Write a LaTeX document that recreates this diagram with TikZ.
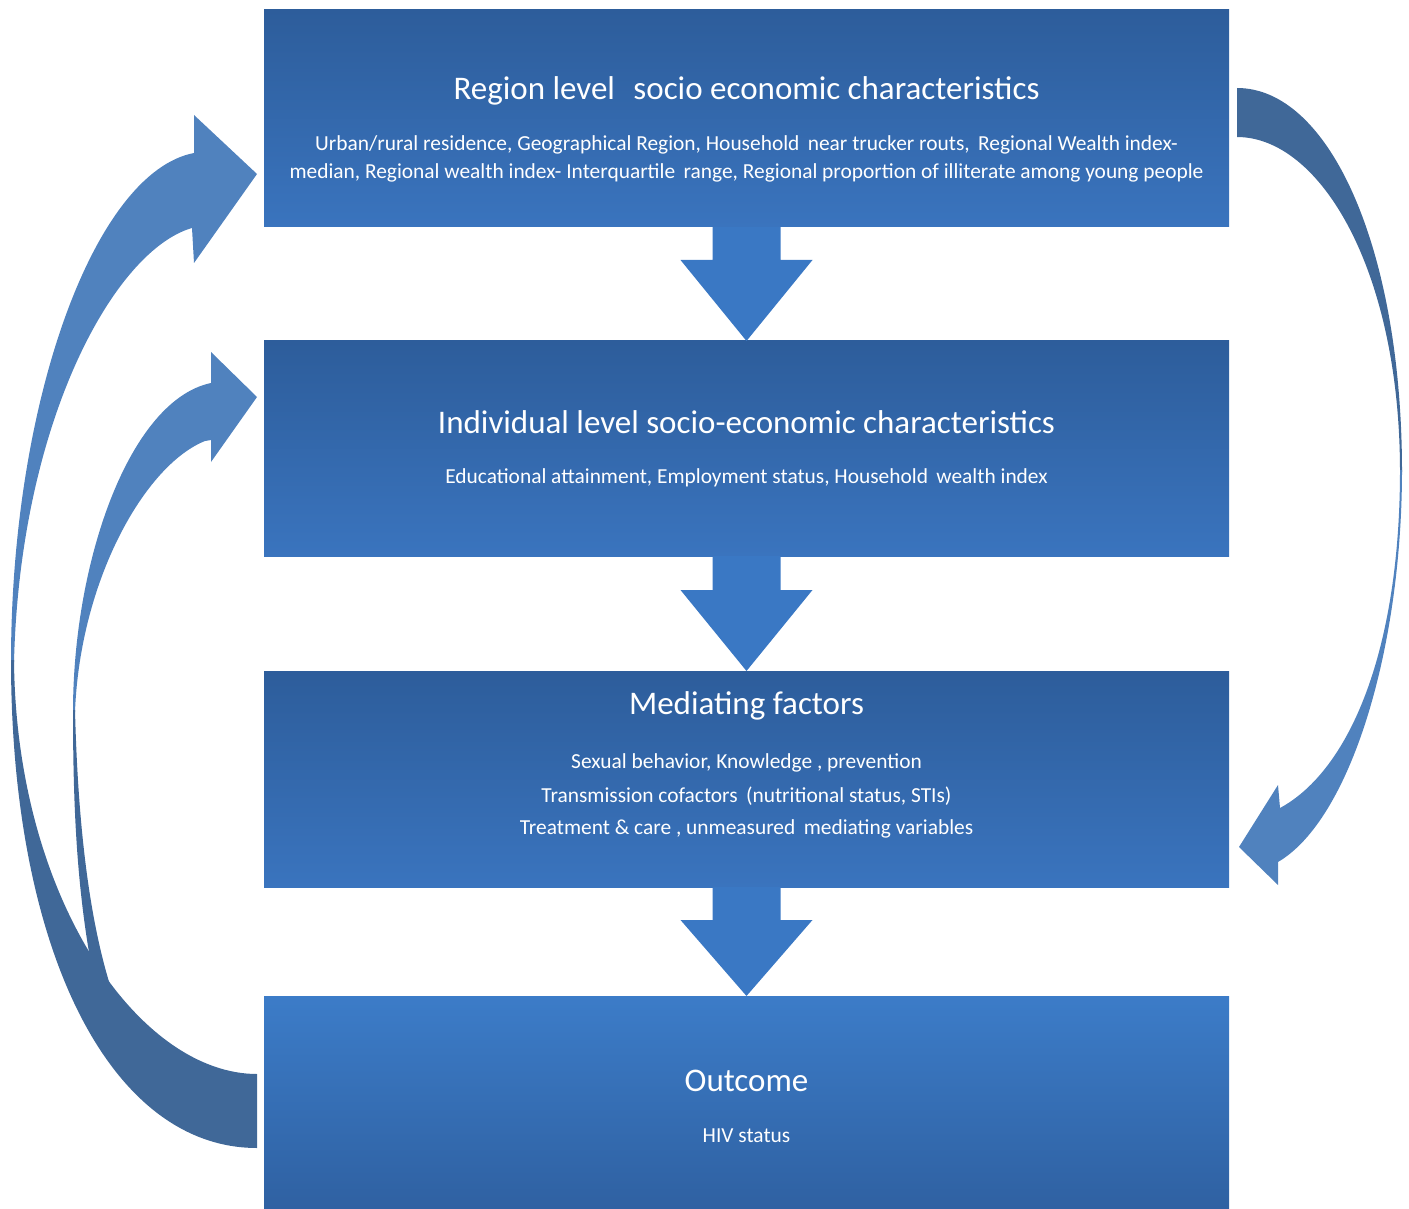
\documentclass[tikz,border=0pt]{standalone}
\usepackage{fontspec}
\setmainfont{Carlito}
\usetikzlibrary{calc}
\definecolor{lvltop}{RGB}{45,93,155}
\definecolor{lvlbot}{RGB}{58,116,190}
\definecolor{outtop}{RGB}{60,124,200}
\definecolor{outbot}{RGB}{47,97,162}
\definecolor{flowblue}{RGB}{58,120,196}
\definecolor{loopdark}{RGB}{64,104,152}
\definecolor{looplight}{RGB}{80,130,190}

\begin{document}
\begin{tikzpicture}[x=0.5pt, y=-0.5pt,
    level/.style={minimum width=482.5pt, inner sep=0pt, outer sep=0pt, top color=lvltop, bottom color=lvlbot},
    heading/.style={anchor=base, inner sep=0pt, text=white, font=\fontsize{16.5}{19}\selectfont},
    detail/.style={anchor=base, inner sep=0pt, text=white, font=\fontsize{10.7}{13}\selectfont},
    flow/.style={fill=flowblue},
    loopback/.style={fill=loopdark},
    loopfront/.style={fill=looplight}
]
\useasboundingbox (0,0) rectangle (1409,1209);

% === Flechas de retorno ===
% outcome -> individual
\fill[loopfront] (73,712) .. controls (73,560) and (130,400) .. (211,383)
    -- (211,352) -- (257,397) -- (211,462) -- (211,440)
    -- (205,441) .. controls (145,465) and (80,580) .. (75,712) -- cycle;
\fill[loopback] (73,710) .. controls (73,820) and (78,900) .. (95,985)
    -- (110,985) .. controls (90,920) and (78,830) .. (75,710) -- cycle;

% outcome -> region
\fill[loopfront] (11,662) .. controls (11,400) and (95,172) .. (194,153)
    -- (194,115) -- (257,174) -- (194,263) -- (192,228)
    .. controls (115,250) and (20,420) .. (14,662) -- cycle;
\fill[loopback] (11,660) .. controls (11,950) and (110,1148) .. (257,1148)
    -- (257,1074) .. controls (140,1074) and (16,900) .. (14,660) -- cycle;

% region -> mediating
\fill[loopback] (1237,88) .. controls (1330,88) and (1402,250) .. (1402,472)
    -- (1400,472) .. controls (1400,270) and (1320,137) .. (1237,137) -- cycle;
\fill[loopfront] (1402,470) .. controls (1402,650) and (1350,820) .. (1278,862)
    -- (1278,885) -- (1239,847) -- (1278,785) -- (1280,808)
    .. controls (1350,770) and (1400,650) .. (1400,470) -- cycle;

% === Niveles ===
\node[level, minimum height=108.5pt] (region) at (746.5,118.5) {};
\node[level, minimum height=107.5pt] (indiv) at (746.5,448.5) {};
\node[level, minimum height=108pt] (mediat) at (746.5,779) {};
\node[level, minimum height=106pt, top color=outtop, bottom color=outbot] (outcome) at (746.5,1102) {};

\node[heading] (regionhead) at (746.5,100) {Region level\,\, socio economic characteristics};
\node[detail] (regionline1) at (746.5,151) {Urban/rural residence, Geographical Region, Household\, near trucker routs,\, Regional Wealth index-};
\node[detail] (regionline2) at (746.5,179) {median, Regional wealth index- Interquartile\, range, Regional proportion of illiterate among young people};

\node[heading] (indivhead) at (746.5,433) {Individual level socio-economic characteristics};
\node[detail] (indivline) at (746.5,483) {Educational attainment, Employment status, Household\, wealth index};

\node[heading] (mediathead) at (746.5,714) {Mediating factors};
\node[detail] (mediatline1) at (746.5,768) {Sexual behavior, Knowledge , prevention};
\node[detail] (mediatline2) at (746.5,802) {Transmission cofactors\, (nutritional status, STIs)};
\node[detail] (mediatline3) at (746.5,834) {Treatment \& care , unmeasured\, mediating variables};

\node[heading] (outcomehead) at (746.5,1091) {Outcome};
\node[detail] (outcomeline) at (746.5,1142) {HIV status};

% === Flechas entre niveles ===
\fill[flow] ($(region.south)+(-34,0)$) -- ($(region.south)+(-34,33)$) -- ($(region.south)+(-66,33)$) -- (indiv.north)
    -- ($(region.south)+(66,33)$) -- ($(region.south)+(34,33)$) -- ($(region.south)+(34,0)$) -- cycle;
\fill[flow] ($(indiv.south)+(-34,0)$) -- ($(indiv.south)+(-34,34)$) -- ($(indiv.south)+(-66,34)$) -- (mediat.north)
    -- ($(indiv.south)+(66,34)$) -- ($(indiv.south)+(34,34)$) -- ($(indiv.south)+(34,0)$) -- cycle;
\fill[flow] ($(mediat.south)+(-34,0)$) -- ($(mediat.south)+(-34,33)$) -- ($(mediat.south)+(-66,33)$) -- (outcome.north)
    -- ($(mediat.south)+(66,33)$) -- ($(mediat.south)+(34,33)$) -- ($(mediat.south)+(34,0)$) -- cycle;

\end{tikzpicture}
\end{document}
